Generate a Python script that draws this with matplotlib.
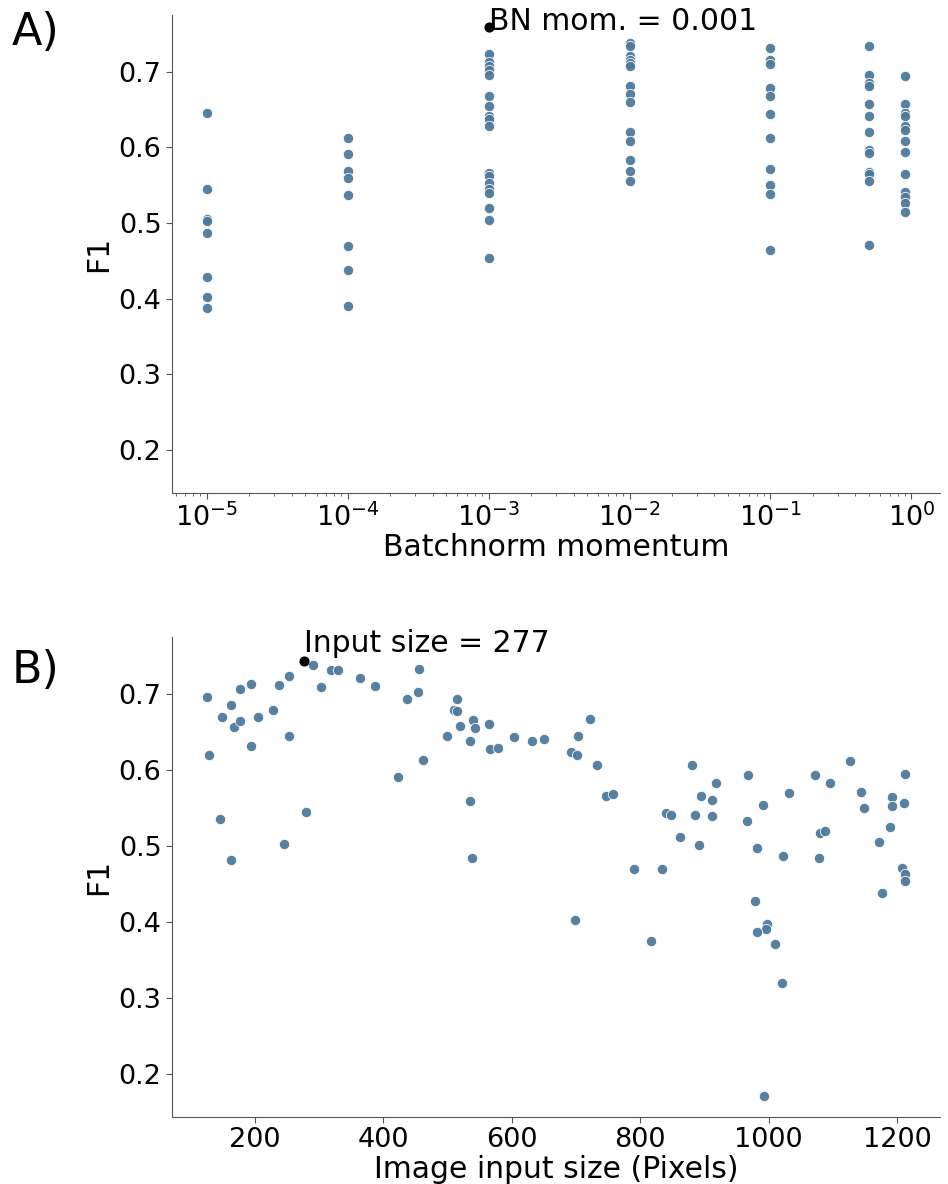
import numpy as np
import matplotlib
matplotlib.use('Agg')
import matplotlib.pyplot as plt

# A) F1 per batchnorm momentum (grouped by momentum value)
bn_groups = [1e-5, 1e-4, 1e-3, 1e-2, 1e-1, 0.5, 0.9]
bn_f1 = [
    [0.646, 0.545, 0.505, 0.503, 0.487, 0.429, 0.402, 0.387],
    [0.613, 0.591, 0.569, 0.559, 0.537, 0.469, 0.438, 0.390],
    [0.724, 0.713, 0.708, 0.702, 0.696, 0.668, 0.655, 0.642, 0.638, 0.628,
     0.566, 0.562, 0.553, 0.545, 0.540, 0.520, 0.504, 0.454],
    [0.738, 0.734, 0.721, 0.715, 0.711, 0.707, 0.681, 0.671, 0.660, 0.621,
     0.608, 0.583, 0.569, 0.556],
    [0.732, 0.715, 0.710, 0.678, 0.668, 0.644, 0.612, 0.571, 0.550, 0.539, 0.464],
    [0.734, 0.696, 0.685, 0.681, 0.658, 0.641, 0.621, 0.596, 0.593, 0.568,
     0.565, 0.555, 0.471],
    [0.694, 0.658, 0.645, 0.641, 0.628, 0.623, 0.608, 0.594, 0.565, 0.541,
     0.535, 0.527, 0.514],
]
best_bn = 1e-3
best_bn_f1 = 0.759

# B) F1 per image input size
size_px = [125, 128, 148, 145, 163, 168, 162, 176, 177, 194, 194, 204, 228, 238,
           253, 253, 245, 280, 291, 302, 318, 329, 364, 387, 436, 423, 454, 456,
           461, 515, 510, 515, 519, 499, 535, 540, 542, 564, 535, 538, 566, 579,
           603, 631, 650, 692, 702, 703, 722, 732, 747, 758, 698, 790, 834, 817,
           840, 848, 862, 880, 894, 918, 912, 885, 911, 891, 967, 991, 966, 981,
           1032, 1022, 978, 997, 995, 981, 1010, 1020, 993, 1072, 1095, 1080,
           1087, 1078, 1127, 1143, 1149, 1192, 1192, 1212, 1211, 1189, 1172,
           1207, 1212, 1212, 1177]
size_f1 = [0.696, 0.620, 0.669, 0.536, 0.685, 0.657, 0.481, 0.706, 0.665, 0.713,
           0.632, 0.670, 0.679, 0.712, 0.723, 0.645, 0.502, 0.545, 0.738, 0.709,
           0.731, 0.732, 0.721, 0.710, 0.693, 0.591, 0.703, 0.733, 0.613, 0.693,
           0.679, 0.677, 0.658, 0.644, 0.638, 0.666, 0.655, 0.660, 0.559, 0.484,
           0.627, 0.629, 0.643, 0.638, 0.641, 0.623, 0.620, 0.644, 0.667, 0.607,
           0.565, 0.568, 0.402, 0.470, 0.470, 0.375, 0.543, 0.541, 0.512, 0.606,
           0.566, 0.583, 0.561, 0.540, 0.539, 0.501, 0.593, 0.554, 0.533, 0.497,
           0.569, 0.487, 0.428, 0.397, 0.390, 0.387, 0.371, 0.320, 0.170, 0.593,
           0.583, 0.517, 0.520, 0.484, 0.612, 0.571, 0.550, 0.564, 0.553, 0.595,
           0.556, 0.525, 0.505, 0.471, 0.463, 0.454, 0.438]
best_size = 277
best_size_f1 = 0.744

text_y = 0.755
ylim = (0.143, 0.775)
dot_color = '#4d7a9b'

fig = plt.figure(figsize=(9.48, 11.84), dpi=100)
ax1 = fig.add_axes([0.1814, 0.5836, 0.81, 0.4037])
ax2 = fig.add_axes([0.1814, 0.0566, 0.81, 0.4054])

for g, vals in zip(bn_groups, bn_f1):
    ax1.scatter([g] * len(vals), vals, s=55, color=dot_color, alpha=0.95,
                edgecolor='white', linewidth=0.6, zorder=2)
ax1.scatter([best_bn], [best_bn_f1], s=40, color='black', zorder=3)
ax1.text(best_bn, text_y, 'BN mom. = 0.001', fontsize=21.5)
ax1.set_xscale('log')
ax1.set_ylim(*ylim)
ax1.set_xlabel('Batchnorm momentum', fontsize=21.5, labelpad=1)
ax1.set_ylabel('F1', fontsize=21.5)

ax2.scatter(size_px, size_f1, s=55, color=dot_color, alpha=0.95,
            edgecolor='white', linewidth=0.6, zorder=2)
ax2.scatter([best_size], [best_size_f1], s=40, color='black', zorder=3)
ax2.text(best_size, text_y, 'Input size = 277', fontsize=21.5)
ax2.set_ylim(*ylim)
ax2.set_xlabel('Image input size (Pixels)', fontsize=21.5, labelpad=1)
ax2.set_ylabel('F1', fontsize=21.5)

for ax in (ax1, ax2):
    ax.spines['top'].set_visible(False)
    ax.spines['right'].set_visible(False)
    for sp in ('left', 'bottom'):
        ax.spines[sp].set_color('#555555')
    ax.tick_params(labelsize=19.5, colors='#555555', labelcolor='black', length=4)
    ax.tick_params(which='minor', colors='#555555', length=2)

fig.text(0.012, 0.962, 'A)', fontsize=32)
fig.text(0.012, 0.423, 'B)', fontsize=32)

fig.savefig('out.png', dpi=100)
